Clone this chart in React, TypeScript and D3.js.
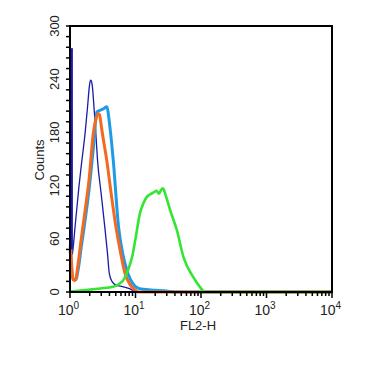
import React from "react";
import * as d3 from "d3";

// FL2-H value, count pairs
const navySpikeX = [1.0, 1.0];
const navySpikeY = [275, 48];

const navyX = [1.0, 1.04, 1.08, 1.12, 1.2, 1.37, 1.5, 1.7, 1.86, 1.95, 2.0, 2.07, 2.14, 2.21, 2.29, 2.45, 2.63, 3.0, 3.39, 3.72, 3.98, 4.37, 5.0, 6.3, 7.9, 9.0, 10, 12];
const navyY = [50, 46, 42, 51, 75, 119, 145, 179, 210, 228, 235, 239, 237, 230, 215, 185, 149, 110, 74, 45, 21, 12, 8, 6, 4, 2, 0, 0];

const blueX = [1.0, 1.03, 1.07, 1.12, 1.22, 1.35, 1.48, 1.62, 1.95, 2.29, 2.57, 2.9, 3.3, 3.63, 4.07, 4.57, 5.5, 6.3, 7.67, 9.0, 10.5, 13, 20, 30, 40, 10000];
const blueY = [46, 40, 22, 14, 14, 28, 50, 70, 115, 165, 203, 205, 207, 209, 186, 149, 74, 45, 21, 10, 5, 3, 2, 1, 0, 0];

const orangeX = [1.0, 1.03, 1.07, 1.12, 1.2, 1.32, 1.48, 1.7, 1.95, 2.27, 2.45, 2.69, 2.82, 2.92, 3.02, 3.63, 4.27, 5.01, 5.89, 6.92, 8.32, 10, 11, 10000];
const orangeY = [52, 45, 25, 14, 13, 30, 59, 92, 126, 179, 193, 201, 200, 194, 186, 149, 110, 74, 45, 21, 8, 2, 0, 0];

const greenX = [1.0, 1.58, 2.88, 4.57, 5.62, 6.61, 7.33, 8.32, 8.91, 10, 11.7, 13.2, 14.8, 16.6, 18.6, 20.9, 22.9, 24.5, 26.3, 27.5, 29.5, 33.9, 42.7, 53.7, 75.9, 95.5, 114.8, 10000];
const greenY = [0.5, 2, 4, 6, 9, 14, 21, 32, 40, 60, 89, 100, 107, 110, 112, 114, 111, 115, 117, 114, 107, 92, 70, 40, 17, 6, 0, 0];

const yMajor = [0, 60, 120, 180, 240, 300];
const xDecades = [1, 10, 100, 1000, 10000];
const xExp = ["0", "1", "2", "3", "4"];

const L = 70, R = 332, T = 26, B = 292;

export default function App() {
  const x = d3.scaleLog().domain([1, 10000]).range([L, R]);
  const y = d3.scaleLinear().domain([0, 300]).range([B, T]);
  const line = (xs: number[], ys: number[]) =>
    d3.line<number>().curve(d3.curveMonotoneX).x((_, i) => x(xs[i])).y((_, i) => y(ys[i]))(xs.map((_, i) => i)) || "";

  const yMinor = d3.range(0, 301, 12);
  const xMinor: number[] = [];
  for (let d = 1; d < 10000; d *= 10) for (let k = 2; k <= 9; k++) xMinor.push(d * k);

  const font = "Liberation Sans, Arial, sans-serif";
  return (
    <svg width={380} height={380} style={{ position: "absolute", left: 0, top: 0, background: "#fff" }}>
      <rect width={380} height={380} fill="#fff" />
      <path d={line(navyX, navyY)} fill="none" stroke="#1a1aa6" strokeWidth={1.3} />
      <path d={line(blueX, blueY)} fill="none" stroke="#1e9be6" strokeWidth={3} />
      <path d={line(orangeX, orangeY)} fill="none" stroke="#f26a21" strokeWidth={3} />
      <path d={line(greenX, greenY)} fill="none" stroke="#33e633" strokeWidth={2.6} />
      {/* frame */}
      <path d={`M${L},${B}V${T}H${R}V${B}Z`} fill="none" stroke="#000" strokeWidth={2} />
      <line x1={x(navySpikeX[0]) + 1.8} x2={x(navySpikeX[1]) + 1.8} y1={y(navySpikeY[0])} y2={y(navySpikeY[1])} stroke="#1a1aa6" strokeWidth={2.2} />
      {/* y ticks */}
      {yMinor.map((v) => (
        <line key={"ym" + v} x1={L - 4} x2={L} y1={y(v)} y2={y(v)} stroke="#000" strokeWidth={1.5} />
      ))}
      {yMajor.map((v) => (
        <text key={"yl" + v} transform={`translate(59,${y(v)}) rotate(-90)`} textAnchor="middle"
          fontFamily={font} fontSize={13} fill="#222">{v}</text>
      ))}
      {/* x ticks */}
      {xMinor.map((v) => (
        <line key={"xm" + v} x1={x(v)} x2={x(v)} y1={B} y2={B + 4} stroke="#000" strokeWidth={1.5} />
      ))}
      {xDecades.map((v, i) => (
        <g key={"xl" + v}>
          <line x1={x(v)} x2={x(v)} y1={B} y2={B + 6} stroke="#000" strokeWidth={1.5} />
          <text x={x(v) - 12} y={315} fontFamily={font} fontSize={14} fill="#222">
            10<tspan dy={-6} fontSize={10}>{xExp[i]}</tspan>
          </text>
        </g>
      ))}
      <text x={198} y={330} textAnchor="middle" fontFamily={font} fontSize={13} fill="#222">FL2-H</text>
      <text transform={`translate(44,160) rotate(-90)`} textAnchor="middle" fontFamily={font} fontSize={13} fill="#222">Counts</text>
    </svg>
  );
}
